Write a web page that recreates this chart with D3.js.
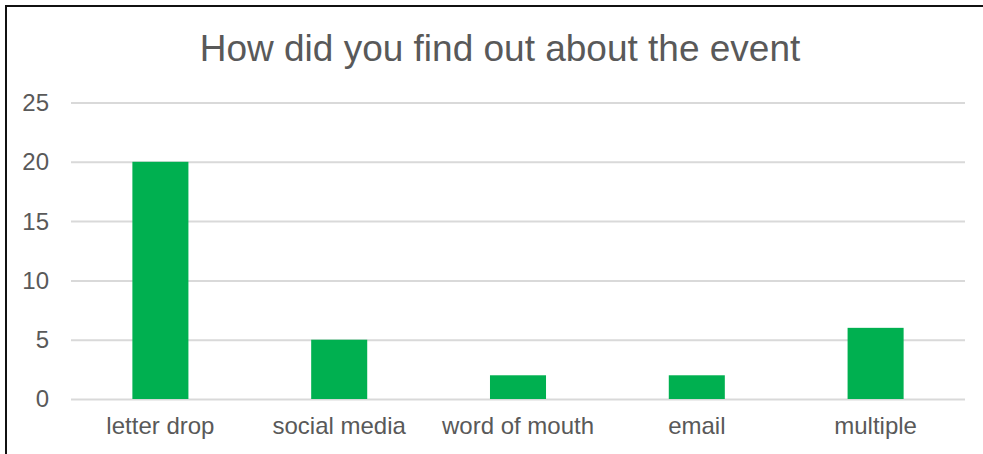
<!DOCTYPE html>
<html>
<head>
<meta charset="utf-8">
<script src="https://cdn.jsdelivr.net/npm/d3@7"></script>
<style>
  html, body { margin: 0; padding: 0; background: #fff; }
  svg { display: block; }
</style>
</head>
<body>
<script>
// Survey responses: how people heard about the event
const categories = ["letter drop", "social media", "word of mouth", "email", "multiple"];
const counts = [20, 5, 2, 2, 6];
const yTicks = [0, 5, 10, 15, 20, 25];
const title = "How did you find out about the event";

const W = 983, H = 454;
const plot = { left: 71, right: 965, top: 102.5, bottom: 399 };
const font = "'Liberation Sans', Arial, sans-serif";
const textColor = "#595959";

const svg = d3.select("body").append("svg")
  .attr("width", W).attr("height", H);

// Chart frame
svg.append("rect")
  .attr("x", 6).attr("y", 6)
  .attr("width", 1010).attr("height", 500)
  .attr("fill", "#fff")
  .attr("stroke", "#111").attr("stroke-width", 2);

const x = d3.scaleBand()
  .domain(categories)
  .range([plot.left, plot.right])
  .paddingInner(0.6866)
  .paddingOuter(0.3433);

const y = d3.scaleLinear()
  .domain([0, 25])
  .range([plot.bottom, plot.top]);

// Title
svg.append("text")
  .attr("x", 500).attr("y", 61)
  .attr("text-anchor", "middle")
  .attr("font-family", font)
  .attr("font-size", 37)
  .attr("fill", textColor)
  .text(title);

// Horizontal gridlines and value labels
const yAxis = d3.axisLeft(y)
  .tickValues(yTicks)
  .tickSize(-(plot.right - plot.left))
  .tickPadding(22);

const gy = svg.append("g")
  .attr("transform", `translate(${plot.left},0)`)
  .call(yAxis);
gy.select(".domain").remove();
gy.selectAll(".tick line")
  .attr("stroke", "#d9d9d9")
  .attr("stroke-width", 2);
gy.selectAll(".tick text")
  .attr("font-family", font)
  .attr("font-size", 24)
  .attr("fill", textColor)
  .attr("dy", "0.33em");

// Bars
svg.append("g")
  .selectAll("rect")
  .data(categories.map((c, i) => ({ c, v: counts[i] })))
  .join("rect")
  .attr("x", d => x(d.c))
  .attr("width", x.bandwidth())
  .attr("y", d => y(d.v))
  .attr("height", d => y(0) - y(d.v))
  .attr("fill", "#00b050");

// Category labels
const xAxis = d3.axisBottom(x).tickSize(0).tickPadding(18);
const gx = svg.append("g")
  .attr("transform", `translate(0,${plot.bottom})`)
  .call(xAxis);
gx.select(".domain").remove();
gx.selectAll(".tick text")
  .attr("font-family", font)
  .attr("font-size", 24)
  .attr("fill", textColor);
</script>
</body>
</html>
